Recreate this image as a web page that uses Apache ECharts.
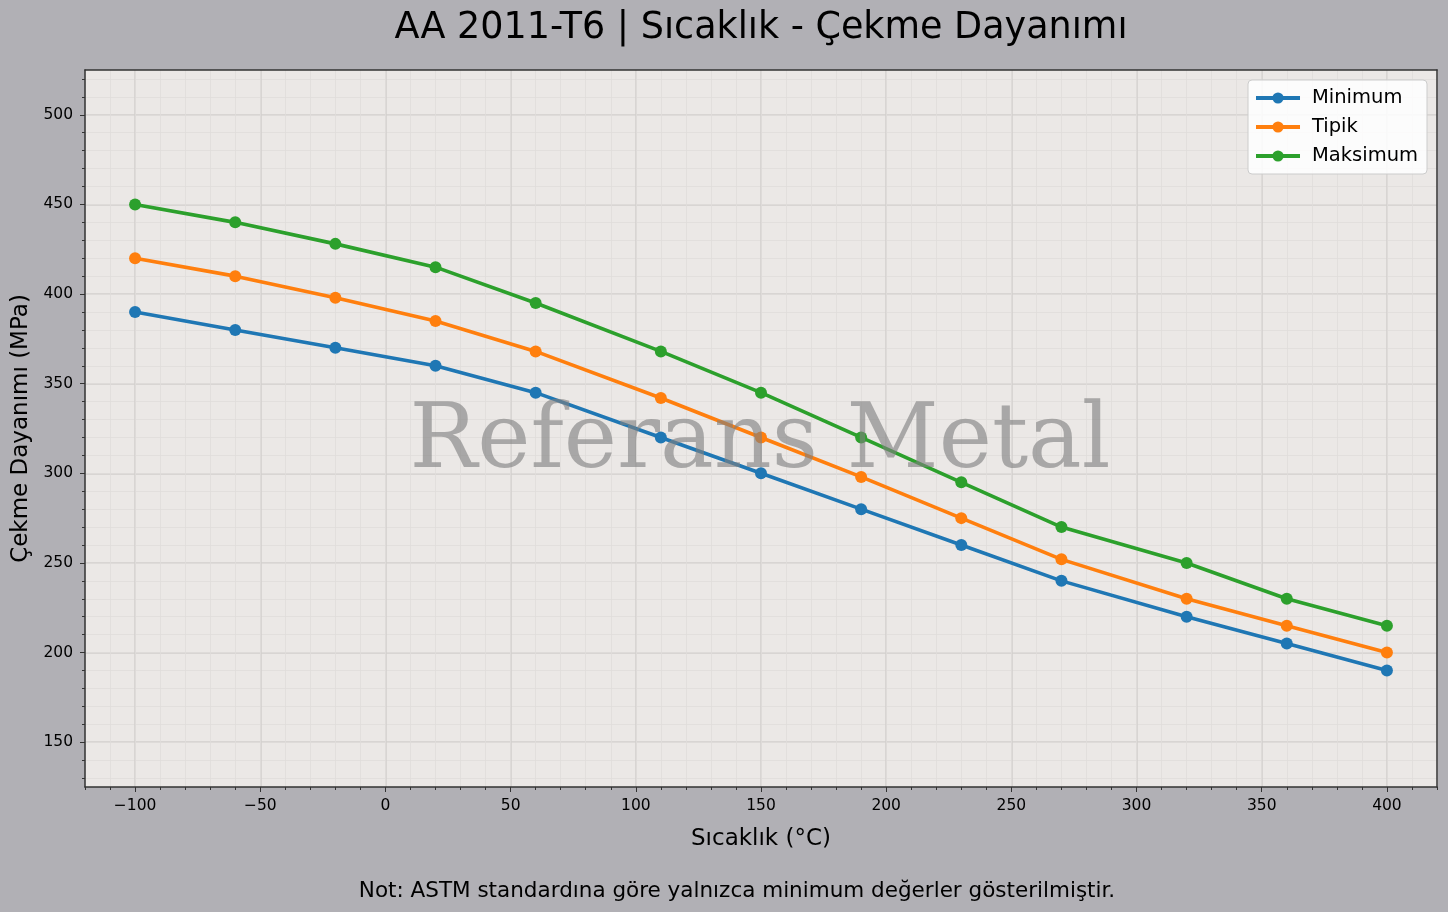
<!DOCTYPE html>
<html>
<head>
    <meta charset="utf-8"/>
    <title>AA 2011-T6 | Sıcaklık - Çekme Dayanımı</title>
    <script src="https://cdn.jsdelivr.net/npm/echarts@6.0.0/dist/echarts.min.js"></script>
    <style>
        html, body { margin: 0; padding: 0; background: #b1b0b5; }
        #main { width: 1448px; height: 912px; }
    </style>
</head>
<body>
<div id="main"></div>
<script type="text/javascript">
    // sıcaklık noktaları (°C)
    var temps = [-100, -60, -20, 20, 60, 110, 150, 190, 230, 270, 320, 360, 400];
    // çekme dayanımı (MPa)
    var minVals = [390, 380, 370, 360, 345, 320, 300, 280, 260, 240, 220, 205, 190];
    var typVals = [420, 410, 398, 385, 368, 342, 320, 298, 275, 252, 230, 215, 200];
    var maxVals = [450, 440, 428, 415, 395, 368, 345, 320, 295, 270, 250, 230, 215];
    // eksen etiketleri
    var xTicks = [-100, -50, 0, 50, 100, 150, 200, 250, 300, 350, 400];
    var yTicks = [150, 200, 250, 300, 350, 400, 450, 500];
    var yMinorTicks = [];
    for (var v = 130; v <= 520; v += 10) { yMinorTicks.push(v); }

    function pairs(xs, ys) {
        var out = [];
        for (var i = 0; i < xs.length; i++) { out.push([xs[i], ys[i]]); }
        return out;
    }

    var font = 'DejaVu Sans';
    var majorGrid = { color: '#d2cfcd', width: 1.5 };
    var minorGrid = { color: '#dfdcda', width: 0.8 };
    var myChart = echarts.init(document.getElementById('main'));

    var option = {
        backgroundColor: '#b1b0b5',
        animation: false,
        textStyle: { fontFamily: font },
        legend: {
            data: ['Minimum', 'Tipik', 'Maksimum'],
            orient: 'vertical',
            right: 21,
            top: 80,
            padding: [8, 9, 8, 6],
            itemGap: 9,
            itemWidth: 44,
            itemHeight: 14,
            lineStyle: { width: 4 },
            backgroundColor: 'rgba(255,255,255,0.85)',
            borderColor: '#cccccc',
            borderWidth: 1,
            borderRadius: 4,
            textStyle: { fontFamily: font, fontSize: 19.5, color: '#000', padding: [0, 0, 0, 7] }
        },
        grid: { left: 85, right: 11, top: 70, bottom: 125, containLabel: false, outerBoundsMode: 'none',
                show: true, backgroundColor: '#ebe8e6', borderWidth: 0 },
        xAxis: [
            {
                type: 'value', min: -120, max: 420, interval: 10, position: 'bottom',
                name: 'Sıcaklık (°C)', nameLocation: 'middle', nameGap: 41,
                nameTextStyle: { fontFamily: font, fontSize: 23, color: '#000' },
                axisLine: { show: true, onZero: false, lineStyle: { color: '#333', width: 1.5 } },
                axisTick: { show: true, length: 5, customValues: xTicks, lineStyle: { color: '#333', width: 1 } },
                axisLabel: { customValues: xTicks, fontFamily: font, fontSize: 15.5, color: '#000', margin: 11,
                             formatter: function (val) { return val < 0 ? '\u2212' + (-val) : String(val); } },
                splitLine: { show: true, lineStyle: majorGrid }
            },
            {
                type: 'value', min: -120, max: 420, interval: 10, position: 'bottom',
                axisLine: { show: false, onZero: false },
                axisTick: { show: true, length: 3, lineStyle: { color: '#333', width: 1 } },
                axisLabel: { show: false },
                splitLine: { show: true, lineStyle: minorGrid }
            },
            {
                type: 'value', min: -120, max: 420, position: 'top',
                axisLine: { show: true, onZero: false, lineStyle: { color: '#333', width: 1.5 } },
                axisTick: { show: false }, axisLabel: { show: false }, splitLine: { show: false }
            }
        ],
        yAxis: [
            {
                type: 'value', min: 125, max: 525, interval: 25, position: 'left',
                name: 'Çekme Dayanımı (MPa)', nameLocation: 'middle', nameGap: 52,
                nameTextStyle: { fontFamily: font, fontSize: 23, color: '#000' },
                axisLine: { show: true, onZero: false, lineStyle: { color: '#333', width: 1.5 } },
                axisTick: { show: true, length: 5, customValues: yTicks, lineStyle: { color: '#333', width: 1 } },
                axisLabel: { customValues: yTicks, fontFamily: font, fontSize: 15.5, color: '#000', margin: 12 },
                splitLine: { show: true, lineStyle: majorGrid }
            },
            {
                type: 'value', min: 125, max: 525, interval: 25, position: 'left',
                axisLine: { show: false, onZero: false },
                axisTick: { show: true, length: 3, customValues: yMinorTicks, lineStyle: { color: '#333', width: 1 } },
                axisLabel: { show: false },
                splitLine: { show: true, lineStyle: minorGrid }
            },
            {
                type: 'value', min: 125, max: 525, position: 'right',
                axisLine: { show: true, onZero: false, lineStyle: { color: '#333', width: 1.5 } },
                axisTick: { show: false }, axisLabel: { show: false }, splitLine: { show: false }
            }
        ],
        graphic: [
            {
                type: 'text', x: 761, y: 10,
                style: { text: 'AA 2011-T6 | Sıcaklık - Çekme Dayanımı', align: 'center',
                         font: '36.5px "DejaVu Sans"', fill: '#000' }
            },
            {
                type: 'text', x: 760, y: 399, z: 100,
                style: { text: 'Referans Metal', align: 'center',
                         font: '90px "DejaVu Serif"', fill: 'rgba(128,128,128,0.62)' }
            },
            {
                type: 'text', x: 737, y: 880,
                style: { text: 'Not: ASTM standardına göre yalnızca minimum değerler gösterilmiştir.', align: 'center',
                         font: '21.5px "DejaVu Sans"', fill: '#000' }
            }
        ],
        series: [
            {
                name: 'Minimum', type: 'line', xAxisIndex: 0, yAxisIndex: 0,
                data: pairs(temps, minVals), symbol: 'circle', symbolSize: 12,
                lineStyle: { width: 3.6, color: '#1f77b4' }, itemStyle: { color: '#1f77b4' }
            },
            {
                name: 'Tipik', type: 'line', xAxisIndex: 0, yAxisIndex: 0,
                data: pairs(temps, typVals), symbol: 'circle', symbolSize: 12,
                lineStyle: { width: 3.6, color: '#ff7f0e' }, itemStyle: { color: '#ff7f0e' }
            },
            {
                name: 'Maksimum', type: 'line', xAxisIndex: 0, yAxisIndex: 0,
                data: pairs(temps, maxVals), symbol: 'circle', symbolSize: 12,
                lineStyle: { width: 3.6, color: '#2ca02c' }, itemStyle: { color: '#2ca02c' }
            }
        ]
    };
    myChart.setOption(option);
</script>
</body>
</html>
